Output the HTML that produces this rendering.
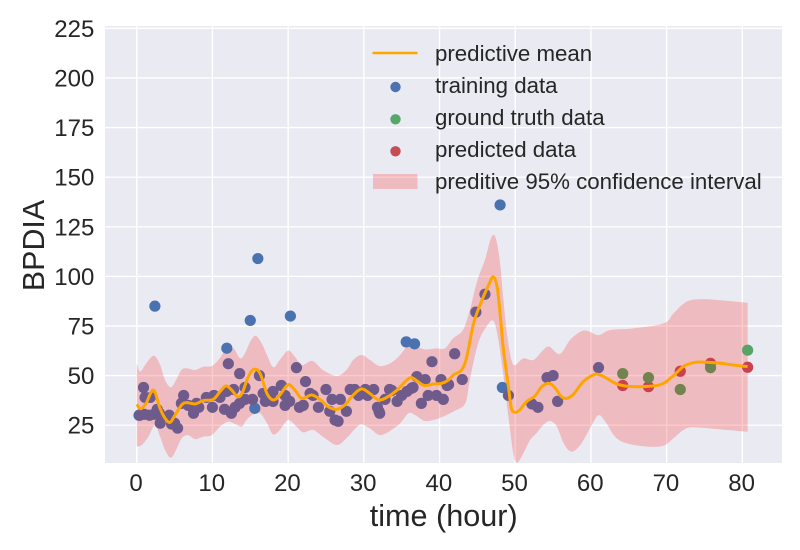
<!DOCTYPE html>
<html lang="en">
<head>
<meta charset="utf-8">
<title>BPDIA prediction chart</title>
<style>
html,body{margin:0;padding:0;background:#fff;}
svg{display:block;font-family:"Liberation Sans",sans-serif;}
text{fill:#262626;}
</style>
</head>
<body>
<svg id="chart" xmlns="http://www.w3.org/2000/svg" width="800" height="550" viewBox="0 0 800 550">
  <rect x="105" y="26" width="677" height="437" fill="#eaeaf2"/>
  <g id="grid"></g>
  <g id="band"></g>
  <g id="points"></g>
  <g id="line"></g>
  <g id="xticks"></g>
  <g id="yticks"></g>
  <text x="443.7" y="526" font-size="30.6" text-anchor="middle">time (hour)</text>
  <text transform="translate(44 245.5) rotate(-90)" font-size="30.4" text-anchor="middle">BPDIA</text>
  <g>
    <line x1="372.5" y1="53" x2="417.5" y2="53" stroke="#ffa500" stroke-width="2.6"/>
    <text x="435" y="61" font-size="22.28">predictive mean</text>
    <circle cx="395.5" cy="87" r="5.2" fill="#4c72b0"/>
    <text x="435" y="93" font-size="22.28">training data</text>
    <circle cx="395.5" cy="119.3" r="5.2" fill="#55a868"/>
    <text x="435" y="125" font-size="22.28">ground truth data</text>
    <circle cx="395.5" cy="151.3" r="5.2" fill="#c44e52"/>
    <text x="435" y="157" font-size="22.28">predicted data</text>
    <rect x="373" y="174" width="44.5" height="15" fill="rgb(247,80,80)" fill-opacity="0.3" />
    <text x="435" y="189" font-size="22.28">preditive 95% confidence interval</text>
  </g>
</svg>
<script>
const xTickLabels = [0, 10, 20, 30, 40, 50, 60, 70, 80];
const yTickLabels = [25, 50, 75, 100, 125, 150, 175, 200, 225];

const meanTimes = [0,0.53,1.23,2.2,3.08,3.74,4.4,5.06,5.94,6.6,7.7,8.8,10.1,11,11.8,12.55,13.3,13.9,14.75,15.5,16.3,17.2,18.05,18.9,20,20.9,21.8,23.1,24.2,25.3,26.4,27.5,28.6,29.7,30.8,32,33.2,34.3,35.7,36.3,37,38,39.2,40.3,41.2,41.8,42.9,43.6,44.5,45.6,46.5,47.1,47.6,48.0,48.4,49.1,49.5,50,50.6,51.5,52.6,53.5,54.5,55.3,56.1,56.8,57.7,59,60.3,61,62.1,63.4,64.9,66.5,68.3,69.6,71,72.3,73.8,75.3,77.1,78.9,80.7];
const meanValues = [35.5,33.3,36,42.7,33.5,28.5,26.4,30.1,35.2,36.4,35.7,37.4,38,41.9,44.8,42.7,39.4,41,49.5,53.2,51.1,41,37.7,40.2,45.4,42.7,38.5,40.2,38,34.3,33,35.2,40.2,43.3,41,37.7,39.4,42.4,47.8,49,47.4,45,45.8,46.1,47.8,50.3,52.8,59.5,76.3,88,95.7,99.8,94.8,81.4,64.6,44.4,33.5,31.5,32.7,36.9,39.7,44.4,46.1,43.6,39.4,38.5,40.7,47,50.3,50.6,48.6,45.8,44.6,44.4,44.8,46.1,50.3,54.8,56.7,56.7,56.2,55.3,54.5];

const upperTimes = [0,0.44,1.1,1.76,2.4,3.1,3.74,4.5,5.2,5.9,6.6,7.7,8.8,9.9,10.8,11.9,12.8,13.65,14.3,15,15.7,16.5,17.2,18.05,18.9,20,20.9,21.8,23.2,24.6,26.4,27.7,28.6,29.7,30.8,32.1,33.5,34.8,35.9,37,38.1,39.6,40.7,41.8,43.1,44,45,46,46.7,47.2,47.6,48,48.4,48.9,49.5,50,51.07,52.4,53.7,54.5,55.9,57.25,58.6,59.5,61,62.5,65.6,69.6,70.9,72.6,74.4,77.1,80.7];
const upperValues = [56.2,52,55.3,58.7,59.9,55.3,47.8,44.1,47.8,52.8,53.7,52.8,54.5,54.8,57.9,63.7,63.7,58.7,61.2,67.1,70.1,66.3,60.4,54.2,57.9,62.6,59.5,55.3,57.4,52.8,49.8,52.8,57.9,60.4,57.9,54.8,56.2,60.4,65.4,64.6,63.2,63.7,63.7,68.8,73,83,98,108.3,118.3,120.9,116.7,106.6,89.8,71.3,57.9,55.3,58.7,57.9,62.9,64.6,60.9,68,72.1,72.6,70.4,72.9,73.8,76.3,81.3,87.2,88.5,88,86.7];

const lowerTimes = [0,0.66,1.54,2.4,3.1,3.74,4.5,5.2,5.94,6.8,7.7,8.8,9.9,11,12.1,13,13.9,14.5,15.4,16.3,17.2,18,18.9,20,21.1,22,23.3,24.6,26.4,27.7,28.9,29.7,30.8,32.1,33.5,34.8,35.9,36.8,38.1,39.6,40.9,42,43.4,44,45.1,46.2,47.1,47.7,48.4,49.1,49.75,50.25,51.07,51.96,52.8,53.7,54.6,55.5,56.4,57.4,58.6,60,61,61.9,63.2,64.7,67.4,69.6,70.9,72.6,74.4,77.1,80.7];
const lowerValues = [14.2,15,19.2,25,19.2,12.5,8.6,12.5,18.4,20,18,19.2,20,24.3,26.8,25.6,24.3,27.6,30.5,31,26,20.4,22.6,27.6,24.3,21.4,22.6,19.2,15,18.4,23.4,25.4,23.4,20,22.2,25.9,31,30.1,27.1,28.1,30.1,32.2,36,47.8,66.3,74.7,77.7,69.6,51.1,29.3,10.8,6.1,10.8,17.5,20.9,25.1,27.1,24.3,15.9,11.7,15,24.3,30,26.8,19.2,15.9,14.2,14.7,18.4,23.4,23.8,22.9,21.7];

const trainingOnlyTimes = [0.3,2.4,11.9,15,16,15.6,20.3,35.6,36.7,48,48.3];
const trainingOnlyValues = [30,85,63.8,77.8,109,33.5,80,67,66,136,44];

const fittedTimes = [0.4,1,1.7,2.3,2.7,3,3.3,3.1,0.9,1.1,1.8,4.3,4.6,5,5.4,6.2,5.9,7.5,6.8,7.9,8.2,9.2,10,10.2,11,11.6,12.1,11.9,12.8,12.5,13,13.6,13.6,14.3,14.3,15.3,16.2,16.7,17,18,18,19.1,19.6,19.6,20.2,21.1,21.5,22,22.3,22.9,23.3,24,25,25.8,25.5,26.2,26.6,26.9,27.7,28.2,28.8,29.3,30.2,30.5,31.3,31.8,32,32.1,32.8,33.4,33.7,34.4,35,35.7,36.3,36.5,37,37.6,38.1,38.5,39,39.6,40.2,40.5,41,41.2,42,43,44.8,46,49.1,52.2,53,54.2,55,55.6,61];
const fittedValues = [30,30.5,30,30.5,33,31,29,26,44,39,39,30,25.6,26,23.5,40,36,31,35,36,34,39,34,40,39,33,56,42,43,31,34,51,36,44,38,38,50,41,37,42,37,45,35,40,37,54,34,35,47,41,40,34,43,38,32,27.6,27,38,32,43,43,40,43,40,43,34,32,31,38,43,42.5,37,40,42,43.6,44,49.5,36,48,40,57,40,48,38,45,45.5,61,48,82,91,40,35.7,34,49,50,37,54];

const groundTruthTimes = [64.2,67.6,71.8,75.8];
const groundTruthValues = [51,49,43,54];
const lastTruthTimes = [80.7];
const lastTruthValues = [62.8];

const predictedTimes = [64.2,67.6,71.8,75.8,80.7];
const predictedValues = [45,44.4,52.2,56.2,54.2];

const SVG_NS = "http://www.w3.org/2000/svg";
const plotLeft = 105, plotRight = 782, plotTop = 26, plotBottom = 463;
const xMin = -4.19, xMax = 85.24, yMin = 5.95, yMax = 226.2;
function xScale(v) { return plotLeft + (v - xMin) / (xMax - xMin) * (plotRight - plotLeft); }
function yScale(v) { return plotBottom - (v - yMin) / (yMax - yMin) * (plotBottom - plotTop); }

function smoothSegments(pts) {
  let d = "";
  for (let i = 0; i < pts.length - 1; i++) {
    const p0 = pts[Math.max(i - 1, 0)], p1 = pts[i], p2 = pts[i + 1], p3 = pts[Math.min(i + 2, pts.length - 1)];
    const c1x = p1[0] + (p2[0] - p0[0]) / 6, c1y = p1[1] + (p2[1] - p0[1]) / 6;
    const c2x = p2[0] - (p3[0] - p1[0]) / 6, c2y = p2[1] - (p3[1] - p1[1]) / 6;
    d += "C" + c1x.toFixed(2) + " " + c1y.toFixed(2) + " " + c2x.toFixed(2) + " " + c2y.toFixed(2) + " " + p2[0].toFixed(2) + " " + p2[1].toFixed(2);
  }
  return d;
}
function toPixels(ts, vs) { return ts.map(function (t, i) { return [xScale(t), yScale(vs[i])]; }); }

const gridG = document.getElementById("grid");
const xTickG = document.getElementById("xticks");
const yTickG = document.getElementById("yticks");

xTickLabels.forEach(function (t) {
  const gl = document.createElementNS(SVG_NS, "line");
  
  
  gl.setAttribute("x1", xScale(t)); gl.setAttribute("x2", xScale(t));
  gl.setAttribute("y1", plotTop); gl.setAttribute("y2", plotBottom);
  gl.setAttribute("stroke", "#fff"); gl.setAttribute("stroke-width", "1.4");
  gridG.appendChild(gl);
  const tx = document.createElementNS(SVG_NS, "text");
  
  
  tx.setAttribute("x", xScale(t) - 0.7); tx.setAttribute("y", 491);
  tx.setAttribute("font-size", "24"); tx.setAttribute("text-anchor", "middle");
  tx.textContent = t;
  xTickG.appendChild(tx);
});
yTickLabels.forEach(function (v) {
  const gl = document.createElementNS(SVG_NS, "line");
  
  
  gl.setAttribute("y1", yScale(v)); gl.setAttribute("y2", yScale(v));
  gl.setAttribute("x1", plotLeft); gl.setAttribute("x2", plotRight);
  gl.setAttribute("stroke", "#fff"); gl.setAttribute("stroke-width", "1.4");
  gridG.appendChild(gl);
  const tx = document.createElementNS(SVG_NS, "text");
  
  
  tx.setAttribute("x", 94.3); tx.setAttribute("y", yScale(v) + 8.5);
  tx.setAttribute("font-size", "24"); tx.setAttribute("text-anchor", "end");
  tx.textContent = v;
  yTickG.appendChild(tx);
});

const upperPx = toPixels(upperTimes, upperValues);
const lowerPx = toPixels(lowerTimes, lowerValues).reverse();
const bandPath = document.createElementNS(SVG_NS, "path");


bandPath.setAttribute("d", "M" + upperPx[0][0] + " " + upperPx[0][1] + smoothSegments(upperPx) + "L" + lowerPx[0][0] + " " + lowerPx[0][1] + smoothSegments(lowerPx) + "Z");
bandPath.setAttribute("fill", "rgb(247,80,80)");
bandPath.setAttribute("fill-opacity", "0.3");
document.getElementById("band").appendChild(bandPath);

const pointsG = document.getElementById("points");
function drawPoints(ts, vs, color, name) {
  ts.forEach(function (t, i) {
    const c = document.createElementNS(SVG_NS, "circle");
    
    
    c.setAttribute("cx", xScale(t).toFixed(2));
    c.setAttribute("cy", yScale(vs[i]).toFixed(2));
    c.setAttribute("r", "5.6");
    c.setAttribute("fill", color);
    pointsG.appendChild(c);
  });
}
drawPoints(trainingOnlyTimes, trainingOnlyValues, "#4a72b0", "training-point");
drawPoints(fittedTimes, fittedValues, "#6f5a8c", "fitted-training-point");
drawPoints(lastTruthTimes, lastTruthValues, "#58a366", "ground-truth-point");
drawPoints(predictedTimes, predictedValues, "#c8414d", "predicted-point");
drawPoints(groundTruthTimes, groundTruthValues, "#73834f", "ground-truth-point");

const meanPx = toPixels(meanTimes, meanValues);
const meanPath = document.createElementNS(SVG_NS, "path");


meanPath.setAttribute("d", "M" + meanPx[0][0] + " " + meanPx[0][1] + smoothSegments(meanPx));
meanPath.setAttribute("fill", "none");
meanPath.setAttribute("stroke", "#ffa500");
meanPath.setAttribute("stroke-width", "3");
meanPath.setAttribute("stroke-linejoin", "round");
document.getElementById("line").appendChild(meanPath);
</script>
</body>
</html>
